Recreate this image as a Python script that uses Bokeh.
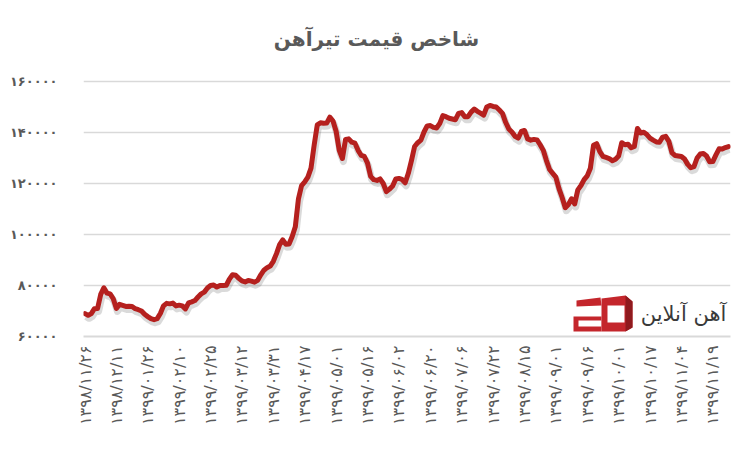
import numpy as np
from bokeh.plotting import figure
from bokeh.models import Range1d, FixedTicker, Label
from bokeh.embed import file_html
from bokeh.resources import INLINE

# ---------------- data ----------------
title_text = "شاخص قیمت تیرآهن"
brand_text = "آهن آنلاین"

x_tick_labels = ["۱۳۹۸/۱۱/۲۶", "۱۳۹۸/۱۲/۱۱", "۱۳۹۹/۰۱/۲۶", "۱۳۹۹/۰۲/۱۰",
                 "۱۳۹۹/۰۲/۲۵", "۱۳۹۹/۰۳/۱۲", "۱۳۹۹/۰۳/۳۱", "۱۳۹۹/۰۴/۱۷",
                 "۱۳۹۹/۰۵/۰۱", "۱۳۹۹/۰۵/۱۶", "۱۳۹۹/۰۶/۰۲", "۱۳۹۹/۰۶/۲۰",
                 "۱۳۹۹/۰۷/۰۶", "۱۳۹۹/۰۷/۲۲", "۱۳۹۹/۰۸/۱۵", "۱۳۹۹/۰۹/۰۱",
                 "۱۳۹۹/۰۹/۱۶", "۱۳۹۹/۱۰/۰۱", "۱۳۹۹/۱۰/۱۷", "۱۳۹۹/۱۱/۰۴",
                 "۱۳۹۹/۱۱/۱۹"]
label_step = 10

y_ticks = [60000, 80000, 100000, 120000, 140000, 160000]
y_tick_labels = ["۶۰۰۰۰", "۸۰۰۰۰", "۱۰۰۰۰۰", "۱۲۰۰۰۰", "۱۴۰۰۰۰", "۱۶۰۰۰۰"]

prices = [
    69000, 68300, 69000, 70900, 71000, 76500, 79100, 77000, 76700, 74800,
    71000, 72600, 72200, 71800, 71900, 71800, 70900, 70500, 70000, 68700,
    67800, 67000, 66600, 67000, 69000, 72000, 73000, 72800, 73100, 72000,
    72300, 72000, 70800, 73200, 73600, 74100, 75500, 76700, 77400, 79000,
    80000, 80200, 79400, 80000, 80000, 80100, 82500, 84200, 84000, 82800,
    81800, 81400, 82000, 81700, 81300, 82000, 84200, 86000, 87000, 87600,
    89500, 92500, 96000, 97900, 96200, 96300, 99200, 103000, 114000, 119200,
    120600, 122500, 126000, 135000, 143000, 143800, 143600, 143700, 146000, 144500,
    140500, 133000, 129800, 137300, 137500, 136200, 135800, 133000, 131000, 130600,
    128000, 122800, 121500, 121200, 121800, 120000, 116800, 117800, 119000, 121800,
    122000, 121600, 120300, 124000, 129000, 134500, 136000, 137000, 140200, 142600,
    142700, 142000, 141800, 143500, 146600, 146200, 145600, 145300, 145000, 147500,
    147800, 146200, 146200, 148000, 149200, 148300, 147600, 146800, 150000, 150600,
    150200, 150000, 148800, 147500, 144000, 141400, 140200, 138500, 137800, 140400,
    140800, 137500, 137000, 137300, 137100, 135200, 133000, 129000, 125500, 124000,
    122500, 118000, 114500, 110500, 111800, 114000, 112000, 117500, 119200, 121500,
    123000, 126000, 135000, 135600, 132500, 130600, 130200, 129800, 128900, 129500,
    130800, 136000, 135200, 135400, 134000, 134500, 141600, 139800, 140100, 139200,
    137800, 137000, 136300, 136200, 138200, 138500, 136500, 132000, 131000, 130800,
    130600, 129600, 127500, 126200, 126600, 130000, 131600, 131800, 130800, 128500,
    128600, 131200, 133600, 133500, 134100, 134500,
]

# ---------------- layout ----------------
W, H = 736, 436
ML, MR = 83, 6
FW = W - ML - MR
GRID_TOP_PX, GRID_BOT_PX = 81, 336          # pixel rows of 160000 and 60000
FH = GRID_BOT_PX                             # frame runs from the top of the canvas
MB = H - FH
PX_PER_IDX = 3.139
X0 = -1.5 / PX_PER_IDX
X1 = X0 + FW / PX_PER_IDX
K = (y_ticks[-1] - y_ticks[0]) / (GRID_BOT_PX - GRID_TOP_PX)
Y0 = y_ticks[0]
Y1 = Y0 + FH * K

def px_x(px):
    return X0 + (px - ML) / FW * (X1 - X0)

def px_y(py):
    return Y1 - py / FH * (Y1 - Y0)

idx = list(range(len(prices)))

p = figure(width=W, height=H, output_backend="svg", toolbar_location=None,
           x_range=Range1d(X0, X1), y_range=Range1d(Y0, Y1),
           min_border_left=ML, min_border_right=MR, min_border_top=0,
           min_border_bottom=MB)
p.outline_line_color = None
p.background_fill_color = "white"
p.border_fill_color = "white"

# soft shadow via slightly shifted ranges
shift_y, shift_x = 3, 1
dy = shift_y * K
dx = shift_x / PX_PER_IDX
p.extra_y_ranges = {"sh": Range1d(Y0 + dy, Y1 + dy)}
p.extra_x_ranges = {"sh": Range1d(X0 - dx, X1 - dx)}
p.line(idx, prices, x_range_name="sh", y_range_name="sh",
       line_color="#555555", line_alpha=0.22, line_width=7, line_join="round")
p.line(idx, prices, line_color="#b5201e", line_width=5, line_join="round",
       line_cap="round")

# axes
p.xaxis.ticker = FixedTicker(ticks=[i * label_step for i in range(len(x_tick_labels))])
p.xaxis.major_label_overrides = {i * label_step: t for i, t in enumerate(x_tick_labels)}
p.xaxis.major_label_orientation = np.pi / 2
p.xaxis.major_tick_line_color = None
p.xaxis.minor_tick_line_color = None
p.xaxis.axis_line_color = "#d9d9d9"
p.xaxis.axis_line_width = 2
p.xaxis.major_label_standoff = 3
p.xaxis.major_label_text_color = "#595959"
p.xaxis.major_label_text_font = "DejaVu Sans"
p.xaxis.major_label_text_font_size = "16px"

p.yaxis.ticker = FixedTicker(ticks=y_ticks)
p.yaxis.major_label_overrides = {v: t for v, t in zip(y_ticks, y_tick_labels)}
p.yaxis.major_tick_line_color = None
p.yaxis.minor_tick_line_color = None
p.yaxis.axis_line_color = None
p.yaxis.major_label_standoff = 20
p.yaxis.major_label_text_color = "#595959"
p.yaxis.major_label_text_font = "DejaVu Sans"
p.yaxis.major_label_text_font_style = "bold"
p.yaxis.major_label_text_font_size = "13px"

p.xgrid.grid_line_color = None
p.ygrid.grid_line_color = "#d9d9d9"
p.ygrid.grid_line_width = 1.5

# title
p.add_layout(Label(x=px_x(376), y=px_y(38), text=title_text,
                   text_align="center", text_baseline="middle",
                   text_font="DejaVu Sans", text_font_style="bold",
                   text_font_size="20px", text_color="#595959"))

# brand logo (decoration, given in pixel positions)
def poly(pts):
    return [px_x(a) for a, b in pts], [px_y(b) for a, b in pts]

red, dark = "#c4262c", "#8f1a1e"
shapes = [
    ([(576, 300), (600, 297), (601, 305), (576, 306)], red),
    ([(573, 316), (601, 316), (601, 331), (573, 331)], red),
    ([(578, 320), (601, 320), (601, 326), (578, 326)], "white"),
    ([(601, 298), (625, 295), (632, 301), (632, 327), (625, 331), (601, 331)], red),
    ([(625, 295), (632, 301), (632, 327), (625, 331)], dark),
    ([(607, 305), (624, 305), (624, 322), (607, 322)], "white"),
]
for pts, col in shapes:
    xs, ys = poly(pts)
    p.patch(xs, ys, fill_color=col, line_color=None)

p.add_layout(Label(x=px_x(683), y=px_y(313), text=brand_text,
                   text_align="center", text_baseline="middle",
                   text_font="DejaVu Sans", text_font_size="21px",
                   text_color="#3a3a3a"))

open("out.html", "w").write(file_html(p, INLINE))
